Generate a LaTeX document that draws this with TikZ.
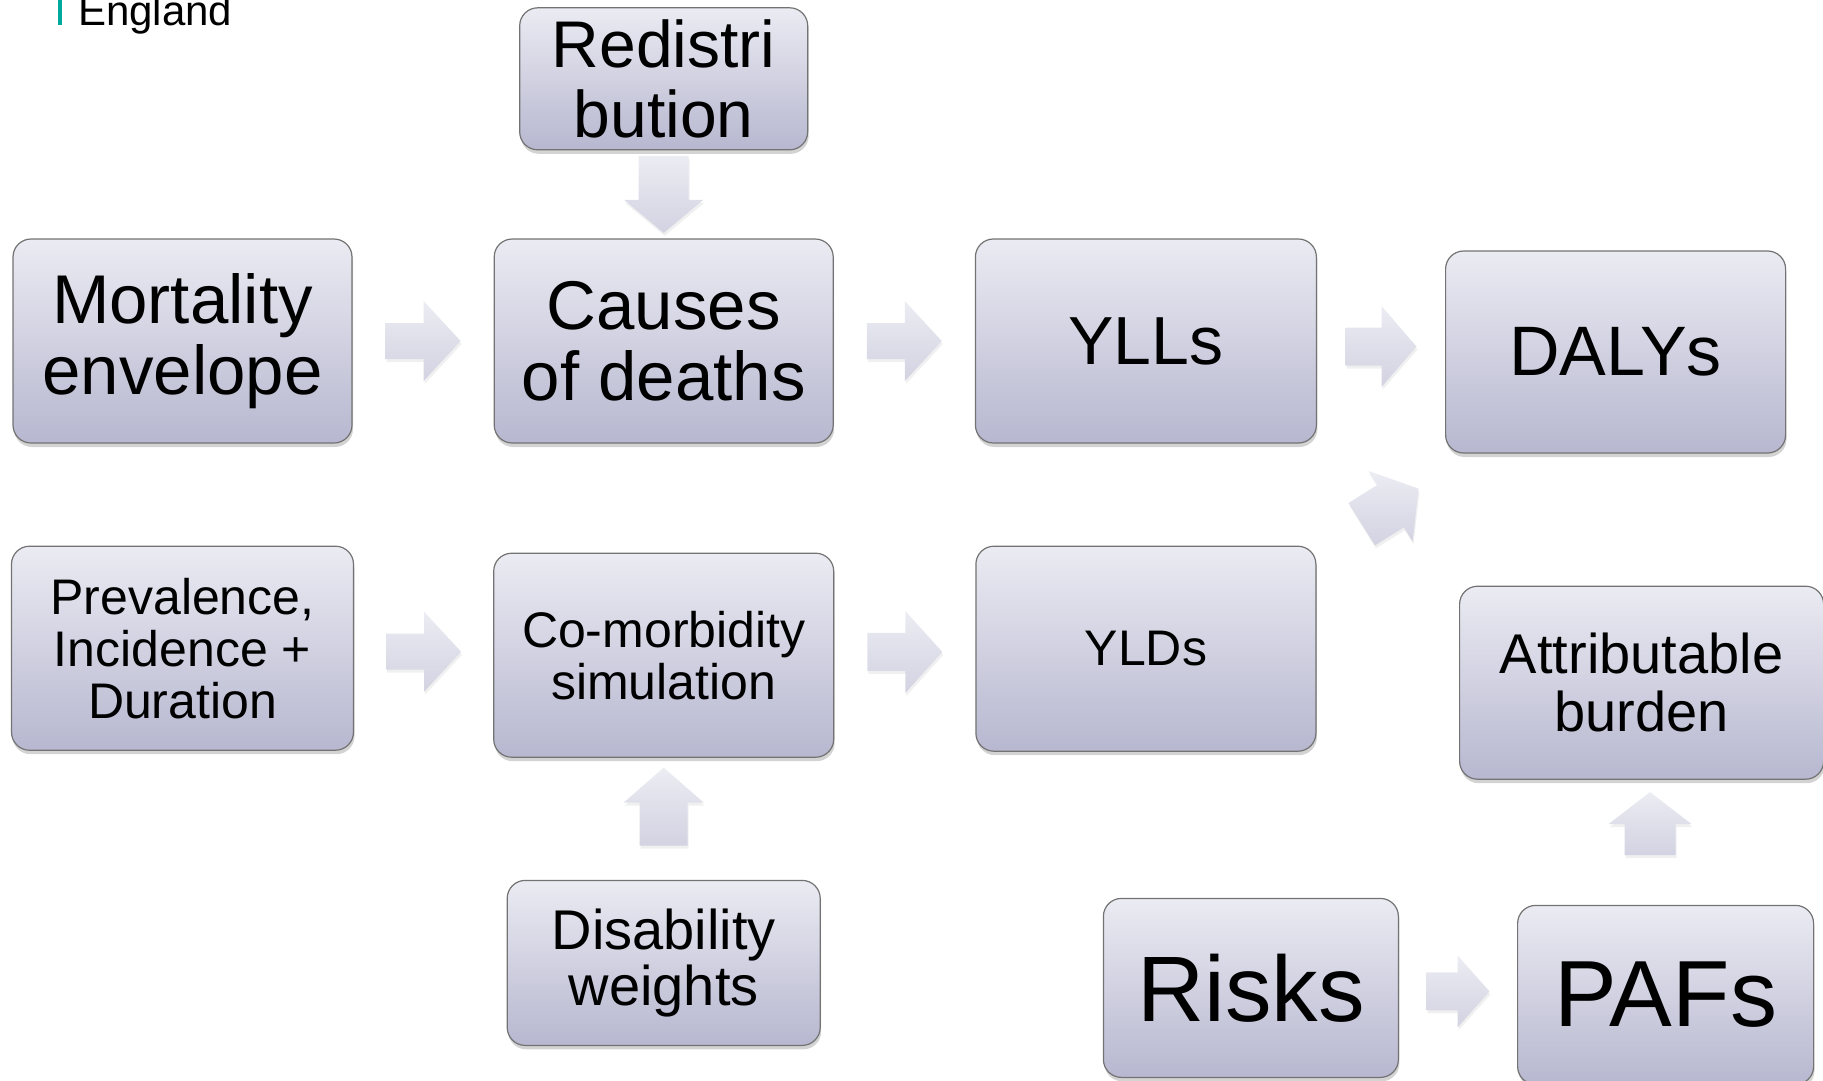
\documentclass[tikz,border=0pt]{standalone}
\usepackage{fontspec}
\setmainfont{Liberation Sans}
\usetikzlibrary{positioning}
\usetikzlibrary{calc}
\usetikzlibrary{shadows}
\definecolor{boxtop}{HTML}{EBEBF3}
\definecolor{boxbottom}{HTML}{B7B7D0}
\definecolor{flowtop}{HTML}{ECECF3}
\definecolor{flowbottom}{HTML}{D2D2E2}
\definecolor{brand}{HTML}{00A99D}
\newcommand\boxfont[2]{\fontsize{#1}{#2}\selectfont\setlength{\lineskiplimit}{-100pt}}
\tikzset{
  fs/.style 2 args      = { font={\boxfont{#1}{#2}} },
  dims/.style 2 args    = { minimum width=#1, minimum height=#2 },
  box/.style            = { rectangle, rounded corners=18pt, inner sep=0pt, align=center },
  border/.style         = { draw=black!55, line width=1.2pt },
  shade/.style          = { top color=boxtop, bottom color=boxbottom },
  step box/.style       = { box, border, shade,
                            drop shadow={shadow xshift=1pt,shadow yshift=-4pt,opacity=.35} },
  flowfill/.style       = { top color=flowtop, bottom color=flowbottom,
                            drop shadow={shadow xshift=1pt,shadow yshift=-3pt,opacity=.12} },
  % block arrow: length, shaft width, head width, head length
  pics/flow/.style n args = {4}{code={
    \path [flowfill] (-#1/2,-#2/2) -- (#1/2-#4,-#2/2) -- (#1/2-#4,-#3/2) -- (#1/2,0)
      -- (#1/2-#4,#3/2) -- (#1/2-#4,#2/2) -- (-#1/2,#2/2) -- cycle;
  }},
}
\begin{document}
\begin{tikzpicture}[x=1pt,y=-1pt]
  \useasboundingbox (0,0) rectangle (1823,1080);

  \fill [brand] (58,-2) rectangle (62,25);
  \node (brandname) [anchor=base west,inner sep=0pt,fs={42}{46}] at (78,25) {England};

  \node (mort)   [step box,dims={339pt}{204pt},fs={69}{71}] at (182.5,341) {Mortality\\envelope};
  \node (cause)  [step box,dims={339pt}{204pt},fs={69}{71},right=141pt of mort]  {Causes\\of deaths};
  \node (yll)    [step box,dims={341pt}{204pt},fs={68}{70},right=141pt of cause] {YLLs};
  \node (daly)   [step box,dims={340pt}{202pt},fs={70}{70},right=128pt of yll,yshift=-11pt] {DALYs};
  \node (redist) [step box,dims={288pt}{142pt},fs={66}{70},above=88pt of cause]  {Redistri\\bution};

  \node (prev)   [step box,dims={342pt}{204pt},fs={50}{52},below=102pt of mort]  {Prevalence,\\Incidence +\\Duration};
  \node (comorb) [step box,dims={340pt}{204pt},fs={50}{52},below=109pt of cause] {Co-morbidity\\simulation};
  \node (yld)    [step box,dims={340pt}{205pt},fs={50}{60},below=102pt of yll]   {YLDs};
  \node (disab)  [step box,dims={313pt}{165pt},fs={56}{56},below=122pt of comorb] {Disability\\weights};

  \node (attr)   [step box,dims={364pt}{193pt},fs={56}{58},below=132pt of daly,xshift=26pt] {Attributable\\burden};
  \node (paf)    [step box,dims={296pt}{179pt},fs={94}{100},below=125pt of attr,xshift=24pt] {PAFs};
  \node (risk)   [step box,dims={295pt}{179pt},fs={93}{100},left=118pt of paf,yshift=7pt] {Risks};

  % block arrows between the boxes
  \pic (mort-cause)   at ($(mort.east)!.5!(cause.west)$)     {flow={75}{36}{80}{37}};
  \pic (cause-yll)    at ($(cause.east)!.5!(yll.west)$)      {flow={75}{36}{80}{37}};
  \pic (yll-daly)     at ($(yll.east)!.5!(daly.west)$)       {flow={71}{38}{81}{35}};
  \pic (prev-comorb)  at ($(prev.east)!.5!(comorb.west)$)    {flow={75}{36}{80}{37}};
  \pic (comorb-yld)   at ($(comorb.east)!.5!(yld.west)$)     {flow={75}{38}{82}{37}};
  \pic (redist-cause) [rotate=-90] at ($(redist.south)!.5!(cause.north)$) {flow={77}{50}{79}{33}};
  \pic (disab-comorb) [rotate=90]  at ($(disab.north)!.6!(comorb.south)$) {flow={78}{48}{80}{35}};
  \pic (paf-attr)     [rotate=90]  at ($(attr.south)!.35!(paf.north)$)    {flow={63}{51}{83}{32}};
  \pic (risk-paf)     at ($(risk.east)!.5!(paf.west)$)       {flow={63}{38}{72}{32}};
  \pic (yld-daly)     [rotate=32]  at ($(yld)!.52!(daly)+(0,12)$)         {flow={67}{50}{83}{33}};
\end{tikzpicture}
\end{document}
